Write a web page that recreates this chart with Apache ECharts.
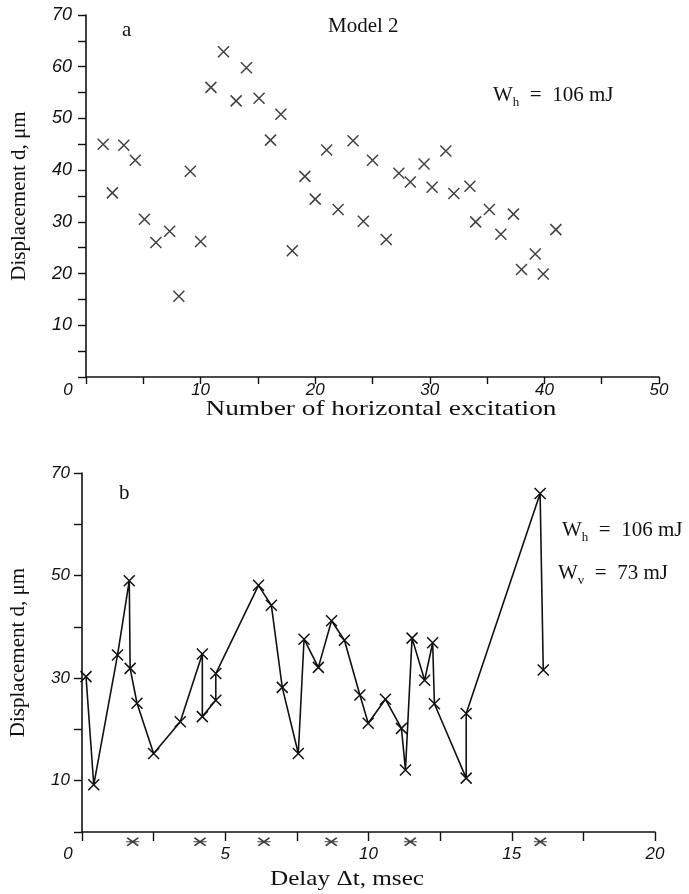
<!DOCTYPE html>
<html>
<head>
<meta charset="utf-8">
<script src="https://cdn.jsdelivr.net/npm/echarts@6/dist/echarts.min.js"></script>
<style>
  html, body { margin: 0; padding: 0; background: #fff; }
  #main { width: 689px; height: 894px; }
</style>
</head>
<body>
<div id="main"></div>
<script>
// panel a : displacement vs number of horizontal excitation
var excitationNo = [1.5, 2.3, 3.3, 4.3, 5.1, 6.1, 7.3, 8.1, 9.1, 10.0, 10.9, 12.0, 13.1, 14.0, 15.1, 16.1, 17.0, 18.0, 19.1, 20.0,
    21.0, 22.0, 23.3, 24.2, 25.0, 26.2, 27.3, 28.3, 29.5, 30.2, 31.4, 32.1, 33.5, 34.0, 35.2, 36.2, 37.3, 38.0, 39.2, 39.9, 41.0];
var dispA = [45.0, 35.6, 44.8, 41.9, 30.5, 26.0, 28.2, 15.6, 39.8, 26.2, 56.0, 62.9, 53.4, 59.8, 53.9, 45.8, 50.8, 24.4, 38.8, 34.4,
    43.9, 32.4, 45.7, 30.1, 41.9, 26.6, 39.4, 37.7, 41.2, 36.7, 43.7, 35.5, 36.9, 30.0, 32.4, 27.6, 31.5, 20.8, 23.8, 19.9, 28.5];

// panel b : displacement vs delay (points joined in measuring order)
var delayT = [0.14, 0.41, 1.24, 1.65, 1.68, 1.92, 2.5, 3.43, 4.2, 4.2, 4.67, 4.67, 6.16, 6.61, 6.99, 7.55, 7.75, 8.25, 8.71,
    9.16, 9.7, 9.99, 10.59, 11.15, 11.29, 11.52, 11.96, 12.24, 12.3, 13.41, 13.41, 15.99, 16.1];
var dispB = [30.3, 9.2, 34.5, 49.0, 31.9, 25.1, 15.3, 21.5, 34.7, 22.5, 25.7, 30.9, 48.1, 44.2, 28.2, 15.3, 37.6, 32.1, 41.2,
    37.4, 26.7, 21.2, 25.9, 20.2, 12.1, 37.8, 29.6, 36.9, 25.0, 10.5, 23.1, 66.0, 31.6];

// asterisks under the delay axis
var starT = [1.77, 4.12, 6.35, 8.7, 11.46, 16.0];
var starY = [-1.9, -1.9, -1.9, -1.9, -1.9, -1.9];

var crossPath = 'path://M0,0L10,10M10,0L0,10';
var starPath = 'path://M0,0L12,8M12,0L0,8M-1,4L13,4';

var labelFont = { fontFamily: 'Liberation Sans', fontStyle: 'italic', fontSize: 17, color: '#111' };
var nameFont = { fontFamily: 'Liberation Serif', fontSize: 21, color: '#111' };

function zip(xs, ys) {
    return xs.map(function (x, i) { return [x, ys[i]]; });
}

// shifts the "0" at the origin to the left, like in the scan
function xLabel(step, shift) {
    return {
        show: true,
        margin: 0,
        formatter: function (v) {
            if (v === 0) return '{z|0}';
            return (Math.abs(v % step) < 1e-6) ? String(v) : '';
        },
        rich: { z: { padding: [0, shift, 0, 0] } }
    };
}

// the scanned titles are a bit wider than the font, so stretch them sideways
function wideTitle(txt, cx, top, sx) {
    return {
        type: 'text', x: cx, y: top, scaleX: sx,
        style: { text: txt, font: '21px "Liberation Serif"', fill: '#111', align: 'center', verticalAlign: 'top' }
    };
}

function energyText(txt, sub, left, top) {
    return {
        type: 'text', left: left, top: top,
        style: {
            text: txt[0] + '{s|' + sub + '}' + txt[1], fill: '#111',
            font: '21px "Liberation Serif"', lineHeight: 22, verticalAlign: 'top',
            rich: { s: { font: '13px "Liberation Serif"', lineHeight: 16, padding: [12, 0, 0, 0], verticalAlign: 'top' } }
        }
    };
}

var chart = echarts.init(document.getElementById('main'), null, { renderer: 'canvas' });

var axisLine = { lineStyle: { color: '#111', width: 1.6 } };

var option = {
    backgroundColor: '#fff',
    animation: false,
    grid: [
        { left: 86, right: 30, top: 15, height: 362 },
        { left: 81, right: 34, top: 473, height: 359 }
    ],
    xAxis: [{
        gridIndex: 0, type: 'value', min: 0, max: 50, interval: 5,
        splitLine: { show: false },
        axisLine: axisLine,
        axisTick: { length: 7, lineStyle: { width: 1.4, color: '#111' } },
        axisLabel: Object.assign(xLabel(10, 36), labelFont, { margin: 5 })
    }, {
        gridIndex: 1, type: 'value', min: 0, max: 20, interval: 2.5,
        splitLine: { show: false },
        axisLine: axisLine,
        axisTick: { length: 9, lineStyle: { width: 1.4, color: '#111' } },
        axisLabel: Object.assign(xLabel(5, 28), labelFont, { margin: 14 })
    }],
    yAxis: [{
        gridIndex: 0, type: 'value', min: 0, max: 70, interval: 5,
        splitLine: { show: false },
        axisLine: axisLine,
        axisTick: { length: 8, lineStyle: { width: 1.4, color: '#111' } },
        axisLabel: Object.assign({
            margin: 14,
            formatter: function (v) { return (v > 0 && v % 10 === 0) ? String(v) : ''; }
        }, labelFont, { fontSize: 18 }),
        name: 'Displacement d, \u03bcm', nameLocation: 'middle', nameGap: 56, nameRotate: 90,
        nameTextStyle: nameFont
    }, {
        gridIndex: 1, type: 'value', min: 0, max: 70, interval: 10,
        splitLine: { show: false },
        axisLine: axisLine,
        axisTick: { length: 8, lineStyle: { width: 1.4, color: '#111' } },
        axisLabel: Object.assign({
            margin: 12,
            formatter: function (v) { return (v % 20 === 10) ? String(v) : ''; }
        }, labelFont),
        name: 'Displacement d, \u03bcm', nameLocation: 'middle', nameGap: 53, nameRotate: 90,
        nameTextStyle: nameFont
    }],
    series: [{
        name: 'a',
        type: 'scatter',
        xAxisIndex: 0, yAxisIndex: 0,
        symbol: crossPath,
        symbolSize: 11,
        itemStyle: { color: 'transparent', borderColor: '#111', borderWidth: 1.5 },
        data: zip(excitationNo, dispA)
    }, {
        name: 'b',
        type: 'line',
        xAxisIndex: 1, yAxisIndex: 1,
        symbol: crossPath,
        symbolSize: 11,
        showSymbol: true,
        lineStyle: { color: '#111', width: 1.6 },
        itemStyle: { color: 'transparent', borderColor: '#111', borderWidth: 1.5 },
        data: zip(delayT, dispB)
    }, {
        name: 'marks',
        type: 'scatter',
        xAxisIndex: 1, yAxisIndex: 1,
        clip: false,
        symbol: starPath,
        symbolSize: [13, 8],
        itemStyle: { color: 'transparent', borderColor: '#111', borderWidth: 1.5 },
        data: zip(starT, starY)
    }],
    graphic: [
        { type: 'text', left: 122, top: 20, style: { text: 'a', font: '21px "Liberation Serif"', fill: '#111' } },
        { type: 'text', left: 328, top: 16, style: { text: 'Model 2', font: '21px "Liberation Serif"', fill: '#111' } },
        energyText(['W', '  =  106 mJ'], 'h', 493, 84),
        { type: 'text', left: 119, top: 483, style: { text: 'b', font: '21px "Liberation Serif"', fill: '#111' } },
        energyText(['W', '  =  106 mJ'], 'h', 562, 519),
        energyText(['W', '  =  73 mJ'], 'v', 558, 562),
        wideTitle('Number of horizontal excitation', 381, 399, 1.3),
        wideTitle('Delay \u0394t, msec', 347, 869, 1.2)
    ]
};

chart.setOption(option);
</script>
</body>
</html>
